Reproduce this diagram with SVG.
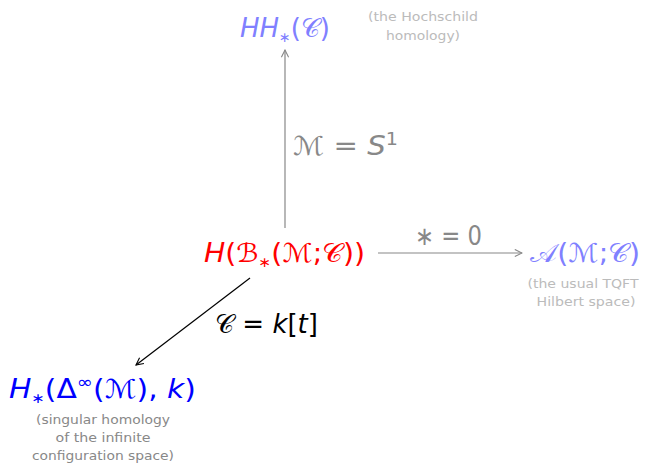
<svg xmlns="http://www.w3.org/2000/svg" width="648" height="464" viewBox="0 0 648 464">
<defs>
<style>
text{font-family:"DejaVu Sans","Liberation Sans",sans-serif}
.big{font-size:26px}
.cap{font-size:13px;text-anchor:middle}
.i{font-style:italic}
.sub{font-size:14px}
.sup{font-size:17px}
</style>
<marker id="ah" viewBox="0 0 10 10" refX="9" refY="5" markerWidth="9" markerHeight="9" orient="auto" markerUnits="userSpaceOnUse">
<path d="M1,1 L9,5 L1,9" fill="none" stroke="context-stroke" stroke-width="1.2"/>
</marker>
</defs>
<rect width="648" height="464" fill="#fff"/>
<g id="connectors">
<line x1="285" y1="228" x2="285" y2="50" stroke="#888" stroke-width="1.2" marker-end="url(#ah)"/>
<line x1="378" y1="253" x2="522" y2="253" stroke="#888" stroke-width="1.2" marker-end="url(#ah)"/>
<line x1="250" y1="278" x2="136" y2="365" stroke="#000" stroke-width="1.2" marker-end="url(#ah)"/>
<text class="big" x="293" y="155" fill="#888" textLength="105" lengthAdjust="spacingAndGlyphs"><tspan>ℳ</tspan> = <tspan class="i">S</tspan><tspan class="sup" dy="-10">1</tspan></text>
<text class="big" x="415" y="245" fill="#888" textLength="67" lengthAdjust="spacingAndGlyphs">∗ = 0</text>
<text class="big" x="215" y="333" fill="#000" textLength="103" lengthAdjust="spacingAndGlyphs"><tspan>𝒞</tspan> = <tspan class="i">k</tspan>[<tspan class="i">t</tspan>]</text>
</g>
<g id="hh">
<text class="big" x="240" y="37" fill="#8080ff" textLength="90" lengthAdjust="spacingAndGlyphs"><tspan class="i">HH</tspan><tspan class="sub" dy="5">∗</tspan><tspan dy="-5">(</tspan><tspan>𝒞</tspan>)</text>
<text class="cap" x="423" y="21" fill="#bbb" textLength="110" lengthAdjust="spacingAndGlyphs">(the Hochschild</text>
<text class="cap" x="423" y="40" fill="#bbb" textLength="74" lengthAdjust="spacingAndGlyphs">homology)</text>
</g>
<g id="center">
<text class="big" x="204" y="262" fill="#ff0000" textLength="161" lengthAdjust="spacingAndGlyphs"><tspan class="i">H</tspan>(<tspan>ℬ</tspan><tspan class="sub" dy="5">∗</tspan><tspan dy="-5">(</tspan><tspan>ℳ</tspan>;<tspan>𝒞</tspan>))</text>
</g>
<g id="tqft">
<text class="big" x="530" y="262" fill="#8080ff" textLength="110" lengthAdjust="spacingAndGlyphs"><tspan>𝒜</tspan>(<tspan>ℳ</tspan>;<tspan>𝒞</tspan>)</text>
<text class="cap" x="583" y="288" fill="#bbb" textLength="111" lengthAdjust="spacingAndGlyphs">(the usual TQFT</text>
<text class="cap" x="586" y="306" fill="#bbb" textLength="99" lengthAdjust="spacingAndGlyphs">Hilbert space)</text>
</g>
<g id="sing">
<text class="big" x="9" y="398" fill="#0000ff" textLength="187" lengthAdjust="spacingAndGlyphs"><tspan class="i">H</tspan><tspan class="sub" dy="5">∗</tspan><tspan dy="-5">(Δ</tspan><tspan class="sup" dy="-10">∞</tspan><tspan dy="10">(</tspan><tspan>ℳ</tspan>), <tspan class="i">k</tspan>)</text>
<text class="cap" x="103" y="424" fill="#888" textLength="134" lengthAdjust="spacingAndGlyphs">(singular homology</text>
<text class="cap" x="103" y="442" fill="#888" textLength="95" lengthAdjust="spacingAndGlyphs">of the infinite</text>
<text class="cap" x="103" y="460" fill="#888" textLength="142" lengthAdjust="spacingAndGlyphs">configuration space)</text>
</g>
</svg>
